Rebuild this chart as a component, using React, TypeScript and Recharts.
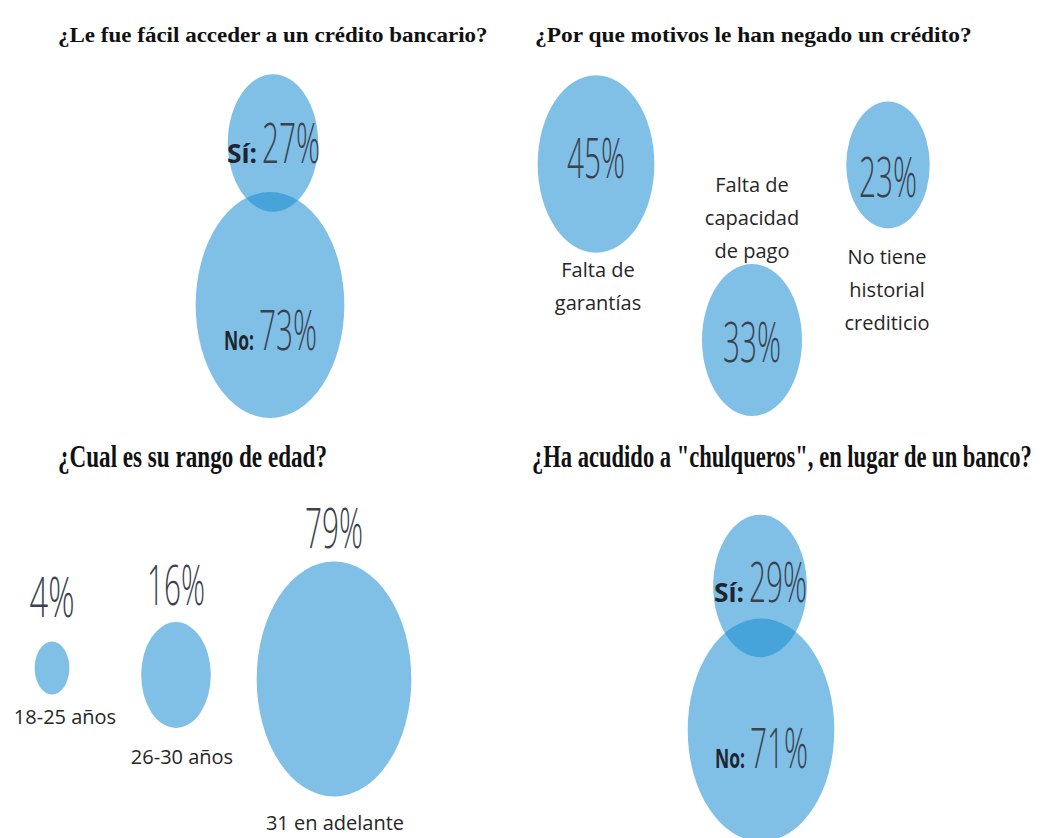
import { useLayoutEffect, useRef, useState } from 'react';
import { Scatter, ScatterChart, XAxis, YAxis, ZAxis } from 'recharts';

const W = 1044;
const H = 838;

// ¿Le fue fácil acceder a un crédito bancario?
const creditAnswers = ['Sí', 'No'];
const creditShares = [27, 73];

// ¿Por que motivos le han negado un crédito?
const reasonLabels = [
  ['Falta de', 'garantías'],
  ['Falta de', 'capacidad', 'de pago'],
  ['No tiene', 'historial', 'crediticio'],
];
const reasonShares = [45, 33, 23];

// ¿Cual es su rango de edad?
const ageLabels = ['18-25 años', '26-30 años', '31 en adelante'];
const ageShares = [4, 16, 79];

// ¿Ha acudido a "chulqueros", en lugar de un banco?
const lenderAnswers = ['Sí', 'No'];
const lenderShares = [29, 71];

const titles = [
  '¿Le fue fácil acceder a un crédito bancario?',
  '¿Por que motivos le han negado un crédito?',
  '¿Cual es su rango de edad?',
  '¿Ha acudido a "chulqueros", en lugar de un banco?',
];

// layout (page units): bubble centres and text offsets
const creditSpots = [{ x: 273, y: 143, textDy: 20 }, { x: 270, y: 305, textDy: 45 }];
const lenderSpots = [{ x: 760, y: 586, textDy: 16 }, { x: 761, y: 730, textDy: 38 }];
const reasonSpots = [
  { x: 596, y: 164, textDy: 14, labelDx: 2, labelDy: 113 },
  { x: 752, y: 340, textDy: 22, labelDx: 0, labelDy: -148 },
  { x: 888, y: 165, textDy: 32, labelDx: -1, labelDy: 99 },
];
const ageSpots = [
  { x: 52, y: 668, textDy: -51, labelDx: 13, labelDy: 56 },
  { x: 176, y: 675, textDy: -70, labelDx: 6, labelDy: 89 },
  { x: 334, y: 679, textDy: -131, labelDx: 1, labelDy: 151 },
];

const FILL = 'rgb(24,140,210)';
const STRETCH = 1.52;
const RX_AT_100 = 87;
const AREA_AT_100 = Math.PI * RX_AT_100 * RX_AT_100;
const PCT_COLOR = '#3a4250';
const LABEL_FONT = "'Open Sans', sans-serif";
const TITLE_FONT = "'Liberation Serif', serif";

const creditData = creditAnswers.map((answer, i) => ({ answer, value: creditShares[i], ...creditSpots[i] }));
const lenderData = lenderAnswers.map((answer, i) => ({ answer, value: lenderShares[i], ...lenderSpots[i] }));
const reasonData = reasonLabels.map((lines, i) => ({ lines, value: reasonShares[i], ...reasonSpots[i] }));
const ageData = ageLabels.map((label, i) => ({ label, value: ageShares[i], ...ageSpots[i] }));

function radius(props: any) {
  if (props.width) return props.width / 2;
  return Math.sqrt(Math.max(props.size || 0, 0) / Math.PI);
}

// text squeezed horizontally to a given width (the source art is stretched)
function FitText({ x, y, fit, children, ...rest }: any) {
  const ref = useRef<SVGTextElement>(null);
  const [k, setK] = useState(1);
  useLayoutEffect(() => {
    const n = ref.current ? ref.current.getComputedTextLength() : 0;
    if (n > 0) setK(fit / n);
  }, [fit, children]);
  return (
    <text ref={ref} x={0} y={0} transform={`translate(${x},${y}) scale(${k},1)`} {...rest}>
      {children}
    </text>
  );
}

function Pct({ x, y, text, anchor = 'middle' }: any) {
  return (
    <FitText
      x={x}
      y={y}
      fit={text.length > 2 ? 58 : 45}
      textAnchor={anchor}
      fontFamily={LABEL_FONT}
      fontWeight={300}
      fontSize={55}
      fill={PCT_COLOR}
    >
      {text}
    </FitText>
  );
}

function Caption({ x, y, text }: any) {
  return (
    <text x={x} y={y} textAnchor="middle" fontFamily={LABEL_FONT} fontSize={20} fill="#262626">
      {text}
    </text>
  );
}

const yesNoShape = (props: any) => {
  const { cx, cy, payload } = props;
  const rx = radius(props);
  const base = cy + payload.textDy;
  return (
    <g>
      <ellipse cx={cx} cy={cy} rx={rx} ry={rx * STRETCH} fill={FILL} fillOpacity={0.55} />
      <FitText x={cx - 46} y={base} fit={30} fontFamily={LABEL_FONT} fontWeight={700} fontSize={26} fill="#1e2530">
        {`${payload.answer}:`}
      </FitText>
      <Pct x={cx - 11} y={base} anchor="start" text={`${payload.value}%`} />
    </g>
  );
};

const reasonShape = (props: any) => {
  const { cx, cy, payload } = props;
  const rx = radius(props);
  return (
    <g>
      <ellipse cx={cx} cy={cy} rx={rx} ry={rx * STRETCH} fill={FILL} fillOpacity={0.55} />
      <Pct x={cx} y={cy + payload.textDy} text={`${payload.value}%`} />
      {payload.lines.map((line: string, i: number) => (
        <Caption key={line} x={cx + payload.labelDx} y={cy + payload.labelDy + i * 33} text={line} />
      ))}
    </g>
  );
};

const ageShape = (props: any) => {
  const { cx, cy, payload } = props;
  const rx = radius(props);
  return (
    <g>
      <ellipse cx={cx} cy={cy} rx={rx} ry={rx * STRETCH} fill={FILL} fillOpacity={0.55} />
      <Pct x={cx} y={cy + payload.textDy} text={`${payload.value}%`} />
      <Caption x={cx + payload.labelDx} y={cy + payload.labelDy} text={payload.label} />
    </g>
  );
};

export default function App() {
  return (
    <div style={{ position: 'relative', width: W, height: H, background: '#fff' }}>
      <style>{'body{margin:0}'}</style>
      <ScatterChart width={W} height={H} margin={{ top: 0, right: 0, bottom: 0, left: 0 }}>
        <XAxis type="number" dataKey="x" domain={[0, W]} hide />
        <YAxis type="number" dataKey="y" domain={[0, H]} reversed hide />
        <ZAxis type="number" dataKey="value" domain={[0, 100]} range={[0, AREA_AT_100]} />
        <Scatter data={creditData} shape={yesNoShape} isAnimationActive={false} />
        <Scatter data={reasonData} shape={reasonShape} isAnimationActive={false} />
        <Scatter data={ageData} shape={ageShape} isAnimationActive={false} />
        <Scatter data={lenderData} shape={yesNoShape} isAnimationActive={false} />
      </ScatterChart>
      <svg width={W} height={H} style={{ position: 'absolute', left: 0, top: 0, pointerEvents: 'none' }}>
        <g fontFamily={TITLE_FONT} fontWeight={700} fill="#111">
          <FitText x={58} y={42} fit={430} fontSize={21}>{titles[0]}</FitText>
          <FitText x={535} y={42} fit={437} fontSize={21}>{titles[1]}</FitText>
          <FitText x={58} y={467} fit={269} fontSize={32}>{titles[2]}</FitText>
          <FitText x={532} y={467} fit={500} fontSize={32}>{titles[3]}</FitText>
        </g>
      </svg>
    </div>
  );
}
